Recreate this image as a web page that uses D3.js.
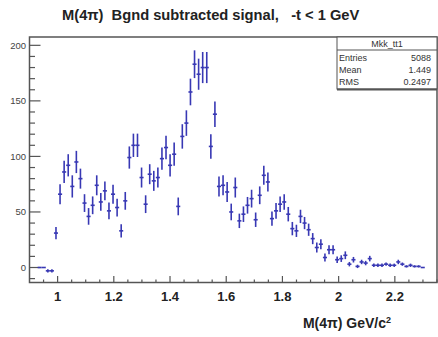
<!DOCTYPE html>
<html>
<head>
<meta charset="utf-8">
<script src="https://cdn.jsdelivr.net/npm/d3@7"></script>
<style>
  html, body { margin: 0; padding: 0; background: #fff; }
  svg { display: block; font-family: "Liberation Sans", Arial, sans-serif; }
</style>
</head>
<body>
<svg id="chart" width="438" height="337"></svg>
<script>
// Histogram binning: 100 bins from 0.9 to 2.35 GeV
const binLow = 0.9;
const binWidth = 0.0145;

// Background-subtracted counts per bin (null = bin not drawn)
const counts = [
  null, null, 0, 0, -3, -3, 31, 66, 86, 92,
  73, 95, 80, 58, 46, 56, 74, 59, 69, 51,
  66, 54, 33, 60, 99, 110, 110, 81, 57, 84,
  78, 81, 98, 108, 92, 102, 55, 118, 130, 158,
  183, 174, 180, 180, 109, 138, 73, 74, 68, 50,
  72, 42, 48, 56, 62, 43, 65, 83, 77, 44,
  51, 57, 59, 48, 35, 33, 46, 40, 34, 26,
  18, 21, 9, 16, 16, 7, 8, 11, 3, 7,
  1, 5, 4, 8, 2, 2, 2, 3, 2, 2,
  5, 3, 1, 2, 1, 1, 0, null, null, null
];

// Statistical error on each bin
const errors = [
  0, 0, 0, 0, 1.5, 1.5, 5.5, 9, 10, 10,
  10, 10, 9, 8, 7.5, 8, 9, 8, 8.5, 7.5,
  8.5, 8, 6, 8, 10, 10.5, 10.5, 9, 8, 9,
  9, 9, 10, 10.5, 10, 10.5, 8, 11, 11.5, 12,
  12.5, 14, 14, 14, 11, 11.5, 9, 9, 9, 7.5,
  9, 6.5, 7, 7.5, 8, 6.5, 8, 8.5, 8.5, 6.5,
  7, 7, 7, 6.5, 6, 5.5, 6, 5.5, 5.5, 5,
  4.5, 4.5, 3.5, 4, 4, 3, 3, 3.5, 2, 2.5,
  1.5, 2, 2, 2.5, 1.5, 1.5, 1.5, 1.5, 1.5, 1.5,
  2, 1.5, 1, 1.5, 1, 1, 0, 0, 0, 0
];

const xTicks = [1, 1.2, 1.4, 1.6, 1.8, 2, 2.2];
const yTicks = [0, 50, 100, 150, 200];

const titleText = "M(4\u03c0)  Bgnd subtracted signal,   -t < 1 GeV";
const xTitle = "M(4\u03c0) GeV/c";

const statName = "Mkk_tt1";
const statLabels = ["Entries", "Mean", "RMS"];
const statValues = ["5088", "1.449", "0.2497"];

const frame = { left: 29.5, right: 437, top: 37, bottom: 282.5 };

const svg = d3.select("#chart");

const x = d3.scaleLinear().domain([0.9, 2.35]).range([frame.left, frame.right]);
const y = d3.scaleLinear().domain([-13.5, 207.5]).range([frame.bottom, frame.top]);

// Title
svg.append("text")
  .attr("x", 62).attr("y", 20)
  .attr("font-size", 14.7).attr("font-weight", "bold")
  .attr("fill", "#222")
  .style("white-space", "pre")
  .text(titleText);

// Frame
svg.append("rect")
  .attr("x", frame.left).attr("y", frame.top)
  .attr("width", frame.right - frame.left).attr("height", frame.bottom - frame.top)
  .attr("fill", "none").attr("stroke", "#555").attr("stroke-width", 1.5);

// Y axis ticks (inside, pointing right)
const yMinor = d3.range(-10, 201, 10);
svg.append("g").selectAll("line").data(yMinor).join("line")
  .attr("x1", frame.left).attr("x2", d => frame.left + (d % 50 === 0 ? 11 : 5.5))
  .attr("y1", d => y(d)).attr("y2", d => y(d))
  .attr("stroke", "#555").attr("stroke-width", 1.2);

svg.append("g").selectAll("text").data(yTicks).join("text")
  .attr("x", 26).attr("y", d => y(d) + 3.5)
  .attr("text-anchor", "end").attr("font-size", 9.5).attr("fill", "#444")
  .text(d => d);

// X axis ticks (inside, pointing up)
const xMinor = d3.range(0.95, 2.351, 0.05).map(v => +v.toFixed(2));
svg.append("g").selectAll("line").data(xMinor).join("line")
  .attr("x1", d => x(d)).attr("x2", d => x(d))
  .attr("y1", frame.bottom)
  .attr("y2", d => frame.bottom - (Math.abs(d * 5 - Math.round(d * 5)) < 1e-6 ? 6.5 : 3))
  .attr("stroke", "#555").attr("stroke-width", 1.2);

svg.append("g").selectAll("text").data(xTicks).join("text")
  .attr("x", d => x(d)).attr("y", 301)
  .attr("text-anchor", "middle").attr("font-size", 13).attr("font-weight", "bold")
  .attr("fill", "#222")
  .text(d => d);

// X axis title
const xt = svg.append("text")
  .attr("x", 391).attr("y", 328)
  .attr("text-anchor", "end").attr("font-size", 14).attr("font-weight", "bold")
  .attr("fill", "#222");
xt.append("tspan").text(xTitle);
xt.append("tspan").attr("dy", -5).attr("font-size", 9).text("2");

// Data points with error bars
const defs = svg.append("defs");
defs.append("filter").attr("id", "soft")
  .append("feGaussianBlur").attr("stdDeviation", 0.5);

const pts = counts.map((v, i) => ({
  lo: binLow + i * binWidth,
  hi: binLow + (i + 1) * binWidth,
  c: binLow + (i + 0.5) * binWidth,
  v, e: errors[i]
})).filter(d => d.v !== null);

const g = svg.append("g").attr("filter", "url(#soft)")
  .attr("stroke", "#3838b4").attr("stroke-width", 1.6);

g.selectAll("line.h").data(pts).join("line").attr("class", "h")
  .attr("x1", d => x(d.lo)).attr("x2", d => x(d.hi))
  .attr("y1", d => y(d.v)).attr("y2", d => y(d.v));

g.selectAll("line.v").data(pts.filter(d => d.e > 0)).join("line").attr("class", "v")
  .attr("x1", d => x(d.c)).attr("x2", d => x(d.c))
  .attr("y1", d => y(d.v - d.e)).attr("y2", d => y(d.v + d.e));

// Statistics box
const box = { x0: 337, x1: 437, y0: 37, y1: 89 };
const sb = svg.append("g");
sb.append("rect")
  .attr("x", box.x0).attr("y", box.y0)
  .attr("width", box.x1 - box.x0).attr("height", box.y1 - box.y0)
  .attr("fill", "#fff").attr("stroke", "#555").attr("stroke-width", 1);
sb.append("line")
  .attr("x1", box.x0).attr("x2", box.x1).attr("y1", box.y1 + 0.5).attr("y2", box.y1 + 0.5)
  .attr("stroke", "#555").attr("stroke-width", 2);
sb.append("line")
  .attr("x1", box.x0).attr("x2", box.x1).attr("y1", 50).attr("y2", 50)
  .attr("stroke", "#555").attr("stroke-width", 1);
sb.append("text")
  .attr("x", (box.x0 + box.x1) / 2).attr("y", 47)
  .attr("text-anchor", "middle").attr("font-size", 9).attr("fill", "#333")
  .text(statName);
sb.selectAll("text.lab").data(statLabels).join("text").attr("class", "lab")
  .attr("x", 339).attr("y", (d, i) => 60.5 + i * 12)
  .attr("font-size", 9).attr("fill", "#333").text(d => d);
sb.selectAll("text.val").data(statValues).join("text").attr("class", "val")
  .attr("x", 431).attr("y", (d, i) => 60.5 + i * 12)
  .attr("text-anchor", "end").attr("font-size", 9).attr("fill", "#333").text(d => d);
</script>
</body>
</html>
